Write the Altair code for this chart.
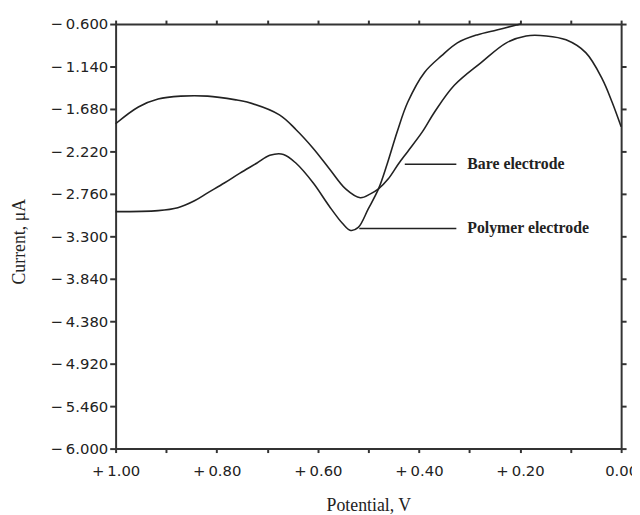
import altair as alt
import pandas as pd

# Bare electrode (potential V, current uA)
bare_x = [1.000, 0.955, 0.916, 0.871, 0.818, 0.760, 0.740, 0.676, 0.643, 0.609,
          0.578, 0.545, 0.516, 0.496, 0.480, 0.461, 0.441, 0.422, 0.393, 0.369, 0.330,
          0.277, 0.227, 0.188, 0.148, 0.109, 0.070, 0.037, 0.018, 0.000]
bare_y = [-1.868, -1.655, -1.554, -1.517, -1.517, -1.567, -1.592, -1.755, -1.944, -2.182,
          -2.433, -2.697, -2.810, -2.760, -2.697, -2.572, -2.383, -2.220, -1.969, -1.718, -1.379,
          -1.090, -0.839, -0.751, -0.751, -0.801, -0.964, -1.303, -1.592, -1.906]

# Polymer electrode
poly_x = [1.000, 0.916, 0.877, 0.844, 0.818, 0.785, 0.754, 0.721, 0.695, 0.668,
          0.643, 0.609, 0.578, 0.551, 0.535, 0.520, 0.500, 0.480, 0.463, 0.443,
          0.422, 0.389, 0.355, 0.324, 0.285, 0.246, 0.207, 0.199]
poly_y = [-2.986, -2.973, -2.936, -2.848, -2.747, -2.622, -2.496, -2.371, -2.270, -2.258,
          -2.371, -2.622, -2.911, -3.137, -3.225, -3.187, -2.948, -2.697, -2.383, -1.969,
          -1.592, -1.215, -1.002, -0.839, -0.738, -0.675, -0.613, -0.600]

y_ticks = [-6.000, -5.460, -4.920, -4.380, -3.840, -3.300, -2.760, -2.220, -1.680, -1.140, -0.600]
x_ticks = [1.0, 0.9, 0.8, 0.7, 0.6, 0.5, 0.4, 0.3, 0.2, 0.1, 0.0]

label_names = ["Bare electrode", "Polymer electrode"]
label_x = [0.316, 0.316]
label_y = [-2.383, -3.200]
pointer_x1 = [0.428, 0.518]
pointer_x2 = [0.326, 0.326]

df = pd.concat([
    pd.DataFrame({"x": bare_x, "y": bare_y, "s": "Bare electrode"}),
    pd.DataFrame({"x": poly_x, "y": poly_y, "s": "Polymer electrode"}),
])
lab = pd.DataFrame({"name": label_names, "x": label_x, "y": label_y,
                    "x1": pointer_x1, "x2": pointer_x2})

xs = alt.Scale(domain=[1.0, 0.0], nice=False, zero=False)
ys = alt.Scale(domain=[-6.0, -0.6], nice=False, zero=False)

AX = "#333333"
lfont = "DejaVu Sans"

x_bottom = alt.X("x:Q", scale=xs, title="Potential, V",
                 axis=alt.Axis(values=x_ticks, orient="bottom", labelFlush=False,
                               labelOverlap=False,
                               labelExpr="abs(datum.value*10 - round(datum.value*5)*2) > 0.01 ? '' : (datum.value > 0.001 ? '+\u2009' + format(datum.value, '.2f') : format(datum.value, '.2f'))",
                               labelFont=lfont, labelFontSize=15, labelColor="#222",
                               labelPadding=11, tickSize=4, tickColor=AX, tickWidth=2,
                               domainColor=AX, domainWidth=2, grid=False,
                               titleFont="Liberation Serif", titleFontSize=18,
                               titleFontWeight="normal", titleColor="#222",
                               titleY=63, titleBaseline="alphabetic"))
y_left = alt.Y("y:Q", scale=ys, title="Current, \u03bcA",
               axis=alt.Axis(values=y_ticks, orient="left", labelOverlap=False,
                             labelFlush=False,
                             labelExpr="'\u2212\u2009' + format(abs(datum.value), '.3f')",
                             labelFont=lfont, labelFontSize=15, labelColor="#222",
                             labelPadding=2, tickSize=6, tickColor=AX, tickWidth=2,
                             domainColor=AX, domainWidth=2, grid=False,
                             titleFont="Liberation Serif", titleFontSize=18,
                             titleFontWeight="normal", titleColor="#222",
                             titleX=-97, titleY=220, titleAngle=270, titleAlign="center",
                             titleBaseline="middle"))

lines = alt.Chart(df).mark_line(color="#222", strokeWidth=1.6, interpolate="catmull-rom").encode(
    x=x_bottom, y=y_left, detail="s:N"
)

# extra axes on top and right (ticks only)
top_axis = alt.Chart(df).mark_line(opacity=0).encode(
    x=alt.X("x:Q", scale=xs, axis=alt.Axis(orient="top", values=x_ticks, labels=False, title=None,
                                             tickSize=4, tickColor=AX, tickWidth=2,
                                             domainColor=AX, domainWidth=2, grid=False)),
    y=alt.Y("y:Q", scale=ys, axis=alt.Axis(orient="right", values=y_ticks, labels=False, title=None,
                                             tickSize=5, tickColor=AX, tickWidth=2,
                                             domainColor=AX, domainWidth=2, grid=False)),
    detail="s:N",
)

pointers = alt.Chart(lab).mark_rule(color="#222", strokeWidth=1.5).encode(
    x=alt.X("x1:Q", scale=xs, axis=None), x2="x2:Q", y=alt.Y("y:Q", scale=ys, axis=None)
)
texts = alt.Chart(lab).mark_text(align="left", baseline="middle", font="Liberation Serif",
                                 fontSize=16, fontWeight="bold", color="#222", dx=6).encode(
    x=alt.X("x:Q", scale=xs, axis=None), y=alt.Y("y:Q", scale=ys, axis=None), text="name:N"
)

chart = alt.layer(lines, top_axis, pointers, texts).resolve_axis(
    x="independent", y="independent"
).properties(
    width=512, height=430,
    autosize=alt.AutoSizeParams(type="none"),
    padding={"left": 109, "top": 13, "right": 11, "bottom": 64},
    background="white",
).configure_view(stroke=None)

chart.save("out.html", embed_options={"renderer": "svg", "actions": False})
